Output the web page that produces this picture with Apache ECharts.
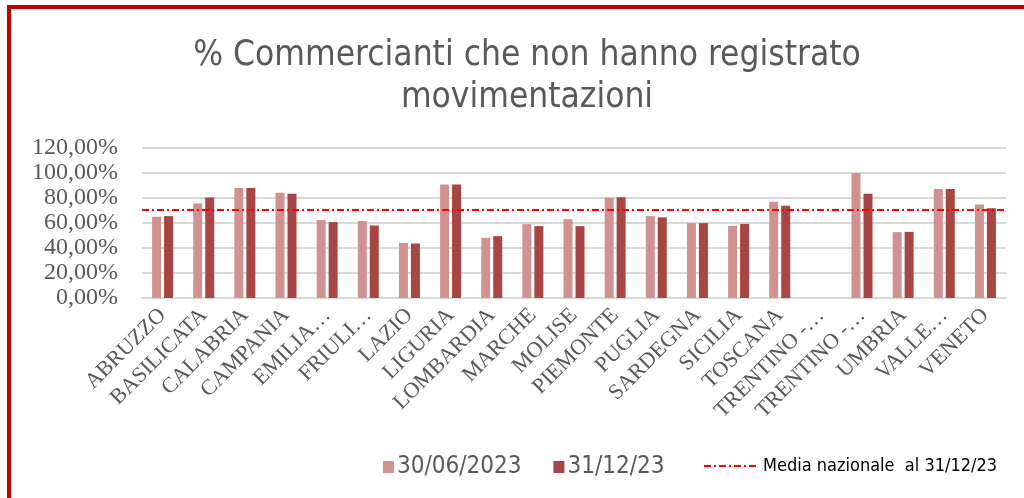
<!DOCTYPE html>
<html>
<head>
<meta charset="utf-8">
<script src="https://cdn.jsdelivr.net/npm/echarts@6/dist/echarts.min.js"></script>
<style>
  html, body { margin: 0; padding: 0; background: #fff; }
  #chart { width: 1024px; height: 498px; }
</style>
</head>
<body>
<div id="chart"></div>
<script>
// regioni (etichette come appaiono, troncate)
var regioni = ['ABRUZZO', 'BASILICATA', 'CALABRIA', 'CAMPANIA', 'EMILIA…', 'FRIULI…', 'LAZIO',
    'LIGURIA', 'LOMBARDIA', 'MARCHE', 'MOLISE', 'PIEMONTE', 'PUGLIA', 'SARDEGNA', 'SICILIA',
    'TOSCANA', 'TRENTINO -…', 'TRENTINO -…', 'UMBRIA', 'VALLE…', 'VENETO'];

var giugno2023 = [65.0, 75.7, 88.0, 84.2, 62.3, 61.5, 44.1, 90.9, 48.1, 59.1, 63.1,
    80.2, 65.5, 59.9, 57.7, 77.0, null, 100.0, 52.7, 87.2, 74.9];
var dicembre2023 = [65.5, 80.5, 88.0, 83.4, 60.7, 58.0, 43.6, 90.9, 49.5, 57.5, 57.5,
    80.7, 64.5, 59.9, 59.3, 73.8, null, 83.4, 52.9, 87.2, 71.9];

var mediaNazionale = 70.3;

var serieNomi = ['30/06/2023', '31/12/23', 'Media nazionale  al 31/12/23'];

var narrow = "'DejaVu Sans Condensed', 'Liberation Sans Narrow', sans-serif";
var serif = "'Liberation Serif', 'DejaVu Serif', serif";

var chart = echarts.init(document.getElementById('chart'));

chart.setOption({
    animation: false,
    title: {
        text: '% Commercianti che non hanno registrato\nmovimentazioni',
        left: 522,
        textAlign: 'center',
        top: 30,
        textStyle: {
            fontFamily: narrow,
            fontWeight: 'normal',
            fontSize: 35,
            lineHeight: 42,
            color: '#595959'
        }
    },
    graphic: [
        { type: 'rect', shape: { x: 7, y: 5, width: 4, height: 493 }, style: { fill: '#C00000' } },
        { type: 'rect', shape: { x: 7, y: 5, width: 1017, height: 4 }, style: { fill: '#C00000' } }
    ],
    grid: {
        left: 142,
        right: 18,
        top: 148,
        bottom: 200
    },
    legend: [
        {
            data: [serieNomi[0], serieNomi[1]],
            left: 378,
            top: 450,
            itemWidth: 11,
            itemHeight: 12,
            itemGap: 32,
            icon: 'rect',
            textStyle: {
                fontFamily: narrow,
                fontSize: 24,
                color: '#595959',
                padding: [0, 0, 0, -2]
            }
        },
        {
            data: [serieNomi[2]],
            left: 698,
            top: 452,
            itemWidth: 54,
            itemHeight: 12,
            itemStyle: { opacity: 0 },
            textStyle: {
                fontFamily: narrow,
                fontSize: 18,
                color: '#000'
            }
        }
    ],
    xAxis: {
        type: 'category',
        data: regioni,
        axisLine: { lineStyle: { color: '#D9D9D9', width: 2 } },
        axisTick: { show: false },
        axisLabel: {
            interval: 0,
            rotate: 45,
            margin: 14,
            fontFamily: serif,
            fontSize: 22,
            color: '#595959'
        }
    },
    yAxis: {
        type: 'value',
        min: 0,
        max: 120,
        interval: 20,
        axisLine: { show: false },
        axisTick: { show: false },
        splitLine: { lineStyle: { color: '#D9D9D9', width: 2 } },
        axisLabel: {
            margin: 24,
            fontFamily: serif,
            fontSize: 24,
            color: '#595959',
            formatter: function (v) { return v.toFixed(2).replace('.', ',') + '%'; }
        }
    },
    series: [
        {
            name: serieNomi[0],
            type: 'bar',
            data: giugno2023,
            barWidth: 9,
            barGap: '33%',
            itemStyle: { color: '#D09191' }
        },
        {
            name: serieNomi[1],
            type: 'bar',
            data: dicembre2023,
            barWidth: 9,
            itemStyle: { color: '#A84545' }
        },
        {
            name: serieNomi[2],
            type: 'line',
            data: [],
            symbol: 'none',
            showSymbol: false,
            lineStyle: { color: '#FF0000', width: 2, type: [7, 3, 2, 3] },
            itemStyle: { color: '#FF0000' },
            markLine: {
                silent: true,
                symbol: 'none',
                label: { show: false },
                lineStyle: { color: '#FF0000', width: 2, type: [7, 3, 2, 3] },
                data: [{ yAxis: mediaNazionale }]
            }
        }
    ]
});
</script>
</body>
</html>
